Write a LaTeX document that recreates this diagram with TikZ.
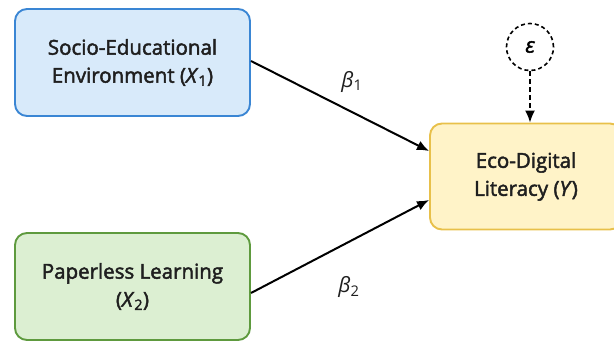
\documentclass[tikz,border=0pt]{standalone}
\usepackage{fontspec}
\setmainfont{Open Sans}
\newfontfamily\labelfont{Open Sans}[FakeBold=2.2]
\usetikzlibrary{arrows.meta}
\definecolor{blueFill}{HTML}{D8EAFA}
\definecolor{blueLine}{HTML}{3A86D4}
\definecolor{greenFill}{HTML}{DCEFD2}
\definecolor{greenLine}{HTML}{5E9A3E}
\definecolor{yellowFill}{HTML}{FFF3C8}
\definecolor{yellowLine}{HTML}{E8C04A}
\tikzset{
  varbox/.style={rounded corners=12pt, line width=1.9pt, align=center,
    font=\labelfont\fontsize{20.5}{28}\selectfont, text=black!88, inner sep=0pt},
  path/.style={line width=2pt, -{Latex[length=12pt,width=10pt]}},
  coef/.style={font=\fontsize{21}{22}\selectfont\itshape, text=black!88},
}
\begin{document}
\begin{tikzpicture}[x=1pt,y=1pt]
  \useasboundingbox (0,0) rectangle (614,342);
  % predictors
  \node[varbox, draw=blueLine, fill=blueFill, minimum width=235pt, minimum height=107pt]
    (x1) at (132.5,279.5) {Socio-Educational\\Environment (\textit{X}\textsubscript{1})};
  \node[varbox, draw=greenLine, fill=greenFill, minimum width=235pt, minimum height=107pt]
    (x2) at (132.5,55.5) {Paperless Learning\\(\textit{X}\textsubscript{2})};
  % outcome
  \node[varbox, draw=yellowLine, fill=yellowFill, minimum width=192pt, minimum height=106pt]
    (y) at (526,165.5) {Eco-Digital\\Literacy (\textit{Y})};
  % error term
  \node[circle, draw, dashed, dash pattern=on 4pt off 3pt, line width=1.6pt,
    minimum size=47pt, inner sep=0pt, font=\labelfont\fontsize{21}{22}\selectfont\itshape]
    (e) at (530,295) {ε};
  % paths
  \coordinate (s1) at (251,281);
  \coordinate (t1) at (429,191);
  \coordinate (s2) at (251,49);
  \coordinate (t2) at (429,142);
  \draw[path] (s1) -- (t1);
  \draw[path] (s2) -- (t2);
  \draw[path, dashed, dash pattern=on 5pt off 3pt, line width=1.6pt] (e) -- (y.north -| e);
  \node[coef] (b1) at (352,260) {β\textsubscript{\upshape 1}};
  \node[coef] (b2) at (349,55) {β\textsubscript{\upshape 2}};
\end{tikzpicture}
\end{document}
